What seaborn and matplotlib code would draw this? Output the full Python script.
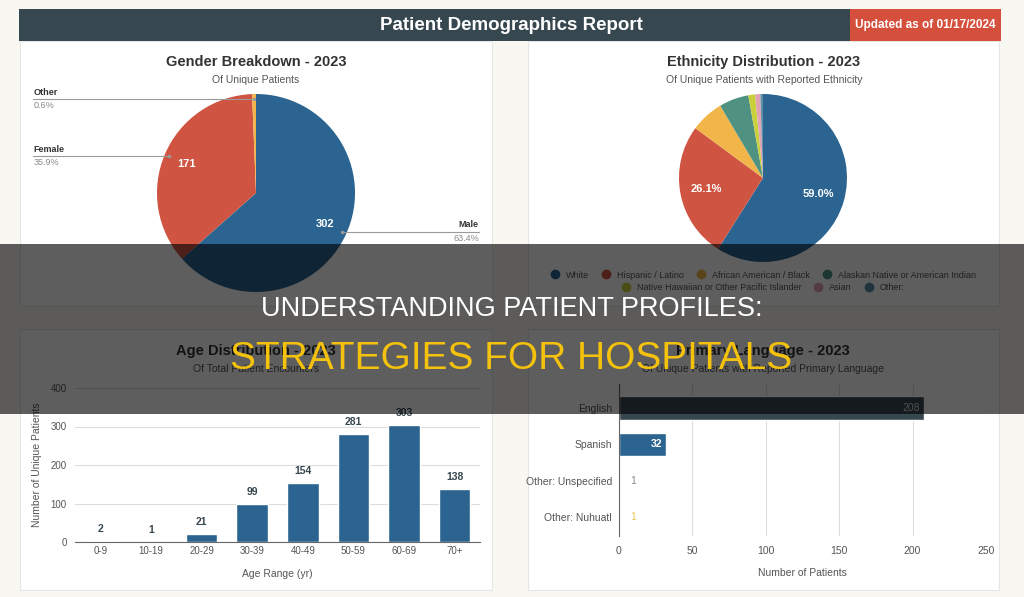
import pandas as pd
import seaborn as sns
import matplotlib.pyplot as plt
from matplotlib.patches import Rectangle
from matplotlib.lines import Line2D
import numpy as np


# ==================================================
# data
# ==================================================

gender_labels = ["Male", "Female", "Other"]
gender_counts = [302, 171, 3]

eth_labels = [
    "White",
    "Hispanic / Latino",
    "African American / Black",
    "Alaskan Native or American Indian",
    "Native Hawaiian or Other Pacific Islander",
    "Asian",
    "Other:",
]
eth_pcts = [59.0, 26.1, 6.4, 5.7, 1.3, 1.0, 0.5]

age_ranges = ["0-9", "10-19", "20-29", "30-39", "40-49", "50-59", "60-69", "70+"]
age_counts = [2, 1, 21, 99, 154, 281, 303, 138]

languages = ["English", "Spanish", "Other: Unspecified", "Other: Nuhuatl"]
lang_counts = [208, 32, 1, 1]


# ==================================================
# style
# ==================================================

BLUE = "#2b6490"
RED = "#cf5442"
ORANGE = "#f1b54a"
SLATE = "#37474f"
CREAM = "#f9f7f1"

gender_colors = [BLUE, RED, ORANGE]
eth_colors = [BLUE, RED, ORANGE, "#4f9282", "#c8d13c", "#e0a3b4", "#5a8fa6"]
lang_colors = [SLATE, BLUE, RED, ORANGE]
lang_label_colors = ["#d8d8d8", "white", "#888888", "#e6c75a"]

sns.set_style("white")
plt.rcParams["font.family"] = ["Liberation Sans", "DejaVu Sans"]

W, H = 1024, 597


def px_box(x0, y0, x1, y1):
    # pixel box (top-left origin) -> figure fraction
    return [x0 / W, 1 - y1 / H, (x1 - x0) / W, (y1 - y0) / H]


fig = plt.figure(figsize=(W / 100, H / 100), dpi=100)
fig.patch.set_facecolor(CREAM)


# ==================================================
# background: header and panels
# ==================================================

bg = fig.add_axes([0, 0, 1, 1], zorder=-5)
bg.set_xlim(0, W)
bg.set_ylim(H, 0)
bg.axis("off")

for x0, y0, x1, y1 in [(20, 41, 492, 306), (528, 41, 999, 306),
                       (20, 329, 492, 590), (528, 329, 999, 590)]:
    bg.add_patch(Rectangle((x0, y0), x1 - x0, y1 - y0,
                           facecolor="white", edgecolor="#e6e6e6", lw=0.8))

bg.add_patch(Rectangle((19, 9), 982, 32, facecolor=SLATE, edgecolor="none"))
bg.add_patch(Rectangle((850, 9), 151, 32, facecolor="#d5503c", edgecolor="none"))
bg.text(511, 26, "Patient Demographics Report", color="white",
        fontsize=13.5, fontweight="bold", ha="center", va="center")
bg.text(925, 25, "Updated as of 01/17/2024", color="white",
        fontsize=8.5, fontweight="bold", ha="center", va="center")

titles = [
    (256, 62, 80, "Gender Breakdown - 2023", "Of Unique Patients"),
    (764, 62, 80, "Ethnicity Distribution - 2023", "Of Unique Patients with Reported Ethnicity"),
    (256, 351, 369, "Age Distribution - 2023", "Of Total Patient Encounters"),
    (763, 351, 369, "Primary Language - 2023", "Of Unique Patients with Reported Primary Language"),
]
for x, yt, ys, t, s in titles:
    bg.text(x, yt, t, fontsize=10.5, fontweight="bold", color="#333333",
            ha="center", va="center")
    bg.text(x, ys, s, fontsize=7.5, color="#555555", ha="center", va="center")


# ==================================================
# gender pie
# ==================================================

ax1 = fig.add_axes(px_box(157, 94, 355, 292))
total_g = sum(gender_counts)
wedges, _, autotexts = ax1.pie(
    gender_counts,
    colors=gender_colors,
    startangle=90,
    counterclock=False,
    autopct=lambda p: f"{round(p * total_g / 100)}" if p > 5 else "",
    pctdistance=0.76,
    wedgeprops=dict(linewidth=0),
    textprops=dict(color="white", fontsize=8, fontweight="bold"),
)
ax1.set_xlim(-1, 1)
ax1.set_ylim(-1, 1)

for w, name, cnt in zip(wedges, gender_labels, gender_counts):
    ang = np.deg2rad((w.theta1 + w.theta2) / 2)
    xe, ye = 0.95 * np.cos(ang), 0.95 * np.sin(ang)
    if xe < 0:
        xl, ha = -2.25, "left"
    else:
        xl, ha = 2.25, "right"
    ax1.plot([xe, xl], [ye, ye], color="#9a9a9a", lw=0.8, clip_on=False)
    ax1.plot([xe], [ye], "o", color="#9a9a9a", ms=1.5, clip_on=False)
    ax1.annotate(name, (xl, ye), xytext=(0, 1.5), textcoords="offset points",
                 ha=ha, va="bottom", fontsize=6.5, fontweight="bold",
                 color="#333333", annotation_clip=False)
    ax1.annotate(f"{cnt / total_g * 100:.1f}%", (xl, ye), xytext=(0, -1.5),
                 textcoords="offset points", ha=ha, va="top", fontsize=6.5,
                 color="#8a8a8a", annotation_clip=False)


# ==================================================
# ethnicity pie
# ==================================================

ax2 = fig.add_axes(px_box(679, 94, 847, 262))
ax2.pie(
    eth_pcts,
    colors=eth_colors,
    startangle=90,
    counterclock=False,
    autopct=lambda p: f"{p:.1f}%" if p > 20 else "",
    pctdistance=0.69,
    wedgeprops=dict(linewidth=0),
    textprops=dict(color="white", fontsize=8, fontweight="bold"),
)
ax2.set_xlim(-1, 1)
ax2.set_ylim(-1, 1)

handles = [Line2D([0], [0], marker="o", ls="", markerfacecolor=c,
                  markeredgecolor=c, markersize=6) for c in eth_colors]
leg_kw = dict(frameon=False, fontsize=6.5, handlelength=0.8,
              handletextpad=0.8, columnspacing=1.5, loc="center",
              bbox_transform=fig.transFigure, labelcolor="#555555",
              borderpad=0, borderaxespad=0)
leg1 = ax2.legend(handles[:4], eth_labels[:4], ncol=4,
                  bbox_to_anchor=(763.5 / W, 1 - 275 / H), **leg_kw)
ax2.add_artist(leg1)
ax2.legend(handles[4:], eth_labels[4:], ncol=3,
           bbox_to_anchor=(763.5 / W, 1 - 288 / H), **leg_kw)


# ==================================================
# age bar chart
# ==================================================

age_df = pd.DataFrame({"age": age_ranges, "count": age_counts})
ax3 = fig.add_axes(px_box(75, 388, 480, 542))
sns.barplot(data=age_df, x="age", y="count", color=BLUE, saturation=1,
            width=0.62, ax=ax3)
ax3.set_ylim(0, 400)
ax3.set_yticks(range(0, 401, 100))
ax3.yaxis.grid(True, color="#dddddd", lw=0.8)
ax3.set_axisbelow(True)
sns.despine(ax=ax3, left=True)
ax3.spines["bottom"].set_color("#666666")
ax3.tick_params(length=0, labelsize=7, labelcolor="#555555")
ax3.tick_params(axis="x", pad=3)
ax3.tick_params(axis="y", pad=6)
ax3.set_xlabel("Age Range (yr)", fontsize=7.5, color="#555555", labelpad=9)
ax3.set_ylabel("Number of Unique Patients", fontsize=7.5, color="#555555",
               labelpad=6)
ax3.bar_label(ax3.containers[0], padding=5, fontsize=7.5, fontweight="bold",
              color=SLATE)


# ==================================================
# language bar chart
# ==================================================

lang_df = pd.DataFrame({"language": languages, "count": lang_counts})
ax4 = fig.add_axes(px_box(619, 384, 986, 536))
sns.barplot(data=lang_df, y="language", x="count", hue="language",
            palette=lang_colors, legend=False, saturation=1, width=0.64,
            orient="h", ax=ax4)
ax4.set_xlim(0, 250)
ax4.set_xticks(range(0, 251, 50))
ax4.set_ylim(3.52, -0.66)
ax4.xaxis.grid(True, color="#dddddd", lw=0.8)
ax4.set_axisbelow(True)
sns.despine(ax=ax4, bottom=True)
ax4.spines["left"].set_color("#666666")
ax4.tick_params(length=0, labelsize=7.5, labelcolor="#555555")
ax4.tick_params(axis="x", pad=7)
ax4.tick_params(axis="y", pad=5)
ax4.set_xlabel("Number of Patients", fontsize=7.5, color="#555555", labelpad=9)
ax4.set_ylabel("")

for i, (v, c) in enumerate(zip(lang_counts, lang_label_colors)):
    if v >= 10:
        ax4.annotate(str(v), (v, i), xytext=(-3, 0), textcoords="offset points",
                     ha="right", va="center", fontsize=7.5, color=c,
                     fontweight="bold" if c == "white" else "normal")
    else:
        ax4.annotate(str(v), (v, i), xytext=(7, 0), textcoords="offset points",
                     ha="left", va="center", fontsize=7.5, color=c)


# ==================================================
# dark banner overlay
# ==================================================

ov = fig.add_axes([0, 0, 1, 1], zorder=10)
ov.set_xlim(0, W)
ov.set_ylim(H, 0)
ov.axis("off")
ov.patch.set_alpha(0)
ov.add_patch(Rectangle((0, 244), W, 170, facecolor="black", alpha=0.63,
                       edgecolor="none"))
ov.text(512, 316, "UNDERSTANDING PATIENT PROFILES:", color="white",
        fontsize=19.5, ha="center", va="baseline")
ov.text(511, 369, "STRATEGIES FOR HOSPITALS", color="#f4c20d",
        fontsize=28, ha="center", va="baseline")

plt.savefig("out.png", dpi=100, facecolor=fig.get_facecolor())
plt.close()
